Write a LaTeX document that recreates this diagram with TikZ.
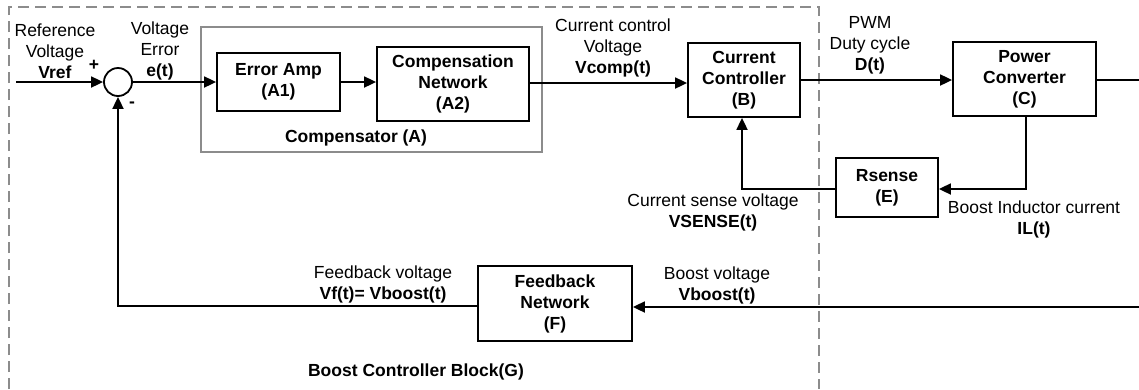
\documentclass[tikz,border=0pt]{standalone}
\usepackage{fontspec}
\setmainfont{Liberation Sans}
\usetikzlibrary{arrows.meta,calc}
\begin{document}
\begin{tikzpicture}[x=1pt,y=-1pt,
  font=\fontsize{17.5}{21}\selectfont,
  blk/.style={draw=black,line width=1.8pt,rectangle,inner sep=0pt,align=center,font=\fontsize{17.5}{21}\selectfont\bfseries},
  lbl/.style={align=center,inner sep=0pt},
  wire/.style={line width=1.8pt},
  arr/.style={line width=1.8pt,-{Triangle[length=12pt,width=11pt]}},
]
\useasboundingbox (0,0) rectangle (1139,389);
\definecolor{dgray}{RGB}{140,140,140}
% dashed controller block
\draw[dgray,line width=1.4pt,dash pattern=on 11pt off 6pt] (9,389) -- (9,7) -- (819,7) -- (819,389);
% compensator gray box
\node[draw=dgray,line width=1.8pt,minimum width=341pt,minimum height=125pt,inner sep=0pt] (comp) at (371.5,89.5) {};
% blocks
\node[blk,minimum width=123pt,minimum height=58pt] (ea) at (278.5,82) {Error Amp\\(A1)};
\node[blk,minimum width=152pt,minimum height=74pt] (cn) at (453,84) {Compensation\\Network\\(A2)};
\node[blk,minimum width=112pt,minimum height=74pt] (cc) at (744,80) {Current\\Controller\\(B)};
\node[blk,minimum width=143pt,minimum height=74pt] (pc) at (1024.5,79) {Power\\Converter\\(C)};
\node[blk,minimum width=102pt,minimum height=59pt] (rs) at (887,187.5) {Rsense\\(E)};
\node[blk,minimum width=154pt,minimum height=75pt] (fn) at (555,303.5) {Feedback\\Network\\(F)};
\node[draw,circle,line width=1.8pt,minimum size=28pt,inner sep=0pt] (sum) at (118,82) {};
% coordinates
\coordinate (in) at (16,82);
\coordinate (out) at (1139,80);
\coordinate (cno) at (529,83);
\coordinate (pcdn) at (1026,189);
\coordinate (rsl) at (742,189);
\coordinate (vb) at (1139,307);
\coordinate (fbl) at (118,306);
% connectors
\draw[arr] (in) -- (sum.west);
\draw[arr] (sum.east) -- (sum.east -| ea.west);
\draw[arr] (ea.east) -- (ea.east -| cn.west);
\draw[arr] (cno) -- (cno -| cc.west);
\draw[arr] (cc.east) -- (cc.east -| pc.west);
\draw[wire] (pc.east |- out) -- (out);
\draw[arr] (pcdn |- pc.south) -- (pcdn) -- (pcdn -| rs.east);
\draw[arr] (rs.west |- rsl) -- (rsl) -- (rsl |- cc.south);
\draw[arr] (vb) -- (vb -| fn.east);
\draw[arr] (fn.west |- fbl) -- (fbl) -- (sum.south);
% labels
\node[lbl] (t1) at (55,51) {Reference\\Voltage\\\textbf{Vref}};
\node[lbl] (plus) at (94,65) {\textbf{+}};
\node[lbl] (minus) at (132,105) {\textbf{-}};
\node[lbl] (t2) at (160,51) {Voltage\\Error\\\textbf{e(t)}};
\node[lbl,font=\fontsize{17.5}{21}\selectfont\bfseries] (t3) at (356,138) {Compensator (A)};
\node[lbl] (t4) at (613,48) {Current control\\Voltage\\\textbf{Vcomp(t)}};
\node[lbl] (t5) at (870,45) {PWM\\Duty cycle\\\textbf{D(t)}};
\node[lbl] (t6) at (1034,219.5) {Boost Inductor current\\\textbf{IL(t)}};
\node[lbl] (t7) at (713,212) {Current sense voltage\\\textbf{VSENSE(t)}};
\node[lbl] (t8) at (717,285) {Boost voltage\\\textbf{Vboost(t)}};
\node[lbl] (t9) at (383,284) {Feedback voltage\\\textbf{Vf(t)= Vboost(t)}};
\node[lbl,font=\fontsize{17.5}{21}\selectfont\bfseries] (t10) at (416,372) {Boost Controller Block(G)};
\end{tikzpicture}
\end{document}
